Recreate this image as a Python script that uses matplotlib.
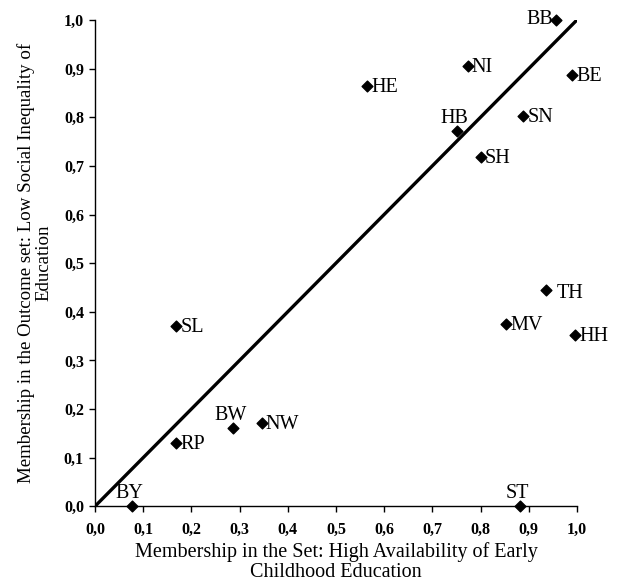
import matplotlib
matplotlib.use("Agg")
import matplotlib.pyplot as plt

# Data
labels = ["BB", "NI", "BE", "HE", "HB", "SN", "SH", "TH", "SL", "MV", "HH", "BW", "NW", "RP", "BY", "ST"]
x_vals = [0.956, 0.773, 0.99, 0.565, 0.752, 0.889, 0.80, 0.936, 0.168, 0.853, 0.996, 0.287, 0.346, 0.168, 0.077, 0.882]
y_vals = [1.0, 0.906, 0.887, 0.864, 0.772, 0.803, 0.719, 0.444, 0.370, 0.374, 0.352, 0.161, 0.171, 0.130, 0.0, 0.0]
tick_vals = [i / 10 for i in range(11)]
tick_labels = [f"{v:.1f}".replace(".", ",") for v in tick_vals]

# Wo das Label relativ zum Punkt steht
label_pos = {"BB": "left", "HB": "above", "BW": "above", "BY": "above", "ST": "above", "TH": "right_gap"}

plt.rcParams["font.family"] = ["Liberation Serif", "DejaVu Serif"]

fig = plt.figure(figsize=(6.21, 5.88), dpi=100)
ax = fig.add_axes([0.153, 0.139, 0.776, 0.827])

ax.plot([0, 1], [0, 1], color="black", linewidth=2.4, solid_capstyle="butt")
ax.scatter(x_vals, y_vals, marker="D", s=30, color="black", zorder=3, clip_on=False)

for lab, x, y in zip(labels, x_vals, y_vals):
    pos = label_pos.get(lab, "right")
    if pos == "left":
        ax.annotate(lab, (x, y), xytext=(-2, 0), textcoords="offset points",
                    ha="right", va="center", fontsize=14.5)
    elif pos == "above":
        ax.annotate(lab, (x, y), xytext=(-2, 2), textcoords="offset points",
                    ha="center", va="bottom", fontsize=14.5)
    elif pos == "right_gap":
        ax.annotate(lab, (x, y), xytext=(8, -2), textcoords="offset points",
                    ha="left", va="center", fontsize=14.5)
    else:
        ax.annotate(lab, (x, y), xytext=(3, -1), textcoords="offset points",
                    ha="left", va="center", fontsize=14.5)

ax.set_xlim(0, 1)
ax.set_ylim(0, 1)
ax.set_xticks(tick_vals)
ax.set_xticklabels(tick_labels, fontweight="bold")
ax.set_yticks(tick_vals)
ax.set_yticklabels(tick_labels, fontweight="bold")
ax.tick_params(direction="out", length=4, width=1, labelsize=11.5)
ax.tick_params(axis="x", pad=7)
ax.tick_params(axis="y", pad=4)
for s in ["top", "right"]:
    ax.spines[s].set_visible(False)
for s in ["left", "bottom"]:
    ax.spines[s].set_linewidth(1)

ax.set_xlabel("Membership in the Set: High Availability of Early\nChildhood Education",
              fontsize=14.5, labelpad=3, linespacing=1.12)
ax.set_ylabel("Membership in the Outcome set: Low Social Inequality of\nEducation",
              fontsize=13.6, labelpad=8, linespacing=1.05)

fig.savefig("out.png", dpi=100)
